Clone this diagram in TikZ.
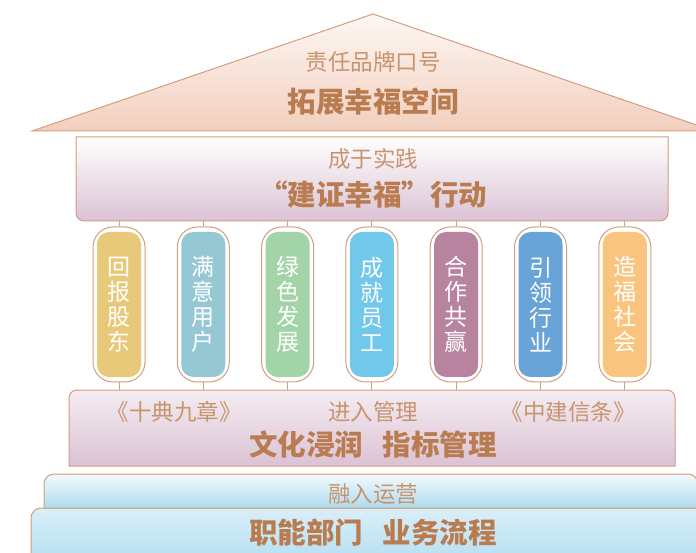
\documentclass[tikz,border=0pt]{standalone}
\usepackage{fontspec}
\setmainfont{Noto Sans CJK SC}
\definecolor{lbrown}{HTML}{C8946E}
\definecolor{dbrown}{HTML}{B97C50}
\definecolor{edge}{HTML}{D29E7E}
\definecolor{roofT}{HTML}{FDF7F4}
\definecolor{roofB}{HTML}{F2CFBE}
\definecolor{lavT}{HTML}{FFFFFF}
\definecolor{lavB}{HTML}{DBC2D4}
\definecolor{bluT}{HTML}{F4FAFD}
\definecolor{bluB}{HTML}{ADDBEF}
\definecolor{blu2T}{HTML}{DAEFF9}
\definecolor{blu2B}{HTML}{B6DFF1}
\definecolor{cA}{HTML}{E8C97A}
\definecolor{cB}{HTML}{96C8D4}
\definecolor{cC}{HTML}{A3D4A8}
\definecolor{cD}{HTML}{72C8EA}
\definecolor{cE}{HTML}{B7839F}
\definecolor{cF}{HTML}{68A4D8}
\definecolor{cG}{HTML}{F9C47E}
\begin{document}
\begin{tikzpicture}[x=1pt,y=1pt,
  sub/.style={text=lbrown,font=\fontsize{22.5}{24}\selectfont,inner sep=0pt},
  title/.style={text=dbrown,font=\fontsize{28.5}{30}\selectfont\bfseries,inner sep=0pt},
  shell/.style={draw=edge,line width=1pt},
  pillarout/.style={draw=edge,line width=1pt,fill=white,rounded corners=20pt,minimum width=52pt,minimum height=155pt,inner sep=0pt},
  pillarin/.style={rounded corners=12pt,minimum width=44pt,minimum height=145pt,inner sep=0pt,text=white,align=center,font=\fontsize{23}{25}\selectfont},
  link/.style={draw=edge,line width=1pt}]
\useasboundingbox (0,0) rectangle (696,552);
% roof
\path[shell,top color=roofT,bottom color=roofB] (32,421) -- (373,538) -- (714,421) -- cycle;
\node[sub] (roofsub) at (373,490) {责任品牌口号};
\node[title] (rooftitle) at (373,450) {拓展幸福空间};
% beam
\path[shell,top color=lavT,bottom color=lavB] (76,415) -- (76,339) arc[start angle=180,end angle=270,radius=8] -- (660,331) arc[start angle=270,end angle=360,radius=8] -- (668,415) -- cycle;
\coordinate (beamB) at (373,331);
\node[sub] (beamsub) at (373,393) {成于实践};
\node[title] (beamtitle) at (373,357) {“建证幸福”行动};
% base 3
\path[shell,top color=blu2T,bottom color=blu2B] (31,-8) -- (31,34) arc[start angle=180,end angle=90,radius=10] -- (702,44) arc[start angle=90,end angle=0,radius=10] -- (712,-8) -- cycle;
% base 2
\path[shell,top color=bluT,bottom color=bluB] (44,44) -- (44,68) arc[start angle=180,end angle=90,radius=10] -- (688,78) arc[start angle=90,end angle=0,radius=10] -- (698,44) -- cycle;
\node[sub] (opsub) at (373,58) {融入运营};
\node[title] (optitle) at (373,19) {职能部门\hspace{0.7em}业务流程};
% base 1
\path[shell,top color=lavT!70!lavB,bottom color=lavB] (69,86) -- (69,154) arc[start angle=180,end angle=90,radius=8] -- (667,162) arc[start angle=90,end angle=0,radius=8] -- (675,86) -- cycle;
\coordinate (baseT) at (373,162);
\node[sub] (b1l) at (174,140) {《十典九章》};
\node[sub] (b1m) at (373,140) {进入管理};
\node[sub] (b1r) at (568,140) {《中建信条》};
\node[title] (b1title) at (373,107) {文化浸润\hspace{0.7em}指标管理};
% pillars
\node[pillarout] (p1) at (119,247.5) {};
\node[pillarout] (p2) at (203.3,247.5) {};
\node[pillarout] (p3) at (287.6,247.5) {};
\node[pillarout] (p4) at (371.9,247.5) {};
\node[pillarout] (p5) at (456.2,247.5) {};
\node[pillarout] (p6) at (540.5,247.5) {};
\node[pillarout] (p7) at (624.8,247.5) {};
\node[pillarin,fill=cA] (q1) at (p1) {回\\报\\股\\东};
\node[pillarin,fill=cB] (q2) at (p2) {满\\意\\用\\户};
\node[pillarin,fill=cC] (q3) at (p3) {绿\\色\\发\\展};
\node[pillarin,fill=cD] (q4) at (p4) {成\\就\\员\\工};
\node[pillarin,fill=cE] (q5) at (p5) {合\\作\\共\\赢};
\node[pillarin,fill=cF] (q6) at (p6) {引\\领\\行\\业};
\node[pillarin,fill=cG] (q7) at (p7) {造\\福\\社\\会};
\foreach \p in {p1,p2,p3,p4,p5,p6,p7}{
  \draw[link] (\p.north) -- (\p.north |- beamB);
  \draw[link] (\p.south) -- (\p.south |- baseT);
}
\end{tikzpicture}
\end{document}
